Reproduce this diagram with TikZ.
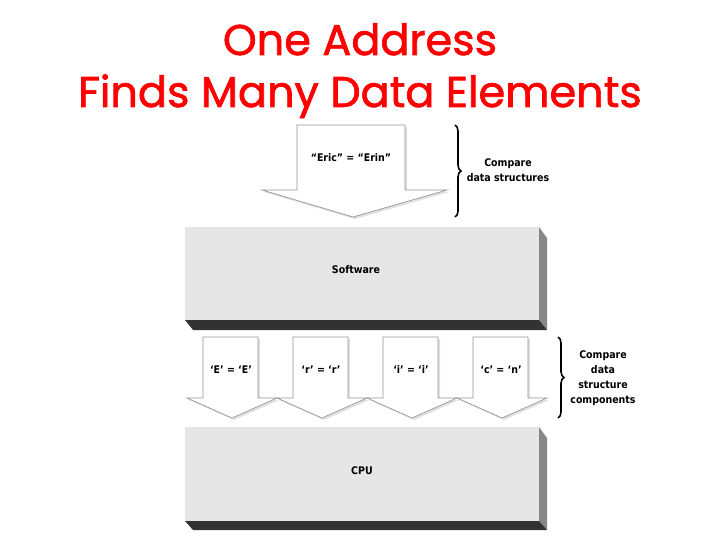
\documentclass[tikz,border=0pt]{standalone}
\usepackage{fontspec}
\setmainfont{DejaVu Sans}
\newfontfamily\lblfont{DejaVu Sans Condensed}
\newfontfamily\titlefont[FakeBold=1.5]{Poppins}
\usetikzlibrary{decorations.pathreplacing}
\definecolor{titlered}{RGB}{255,0,0}
\definecolor{facegray}{RGB}{230,230,230}
\definecolor{sidegray}{RGB}{135,135,135}
\definecolor{bottomgray}{RGB}{50,50,50}
\definecolor{arrowline}{RGB}{150,150,150}
\tikzset{
  lbl/.style={font=\lblfont\bfseries\fontsize{10.5}{15}\selectfont, inner sep=0pt, align=center},
  ttl/.style={font=\titlefont\fontsize{43}{48}\selectfont, text=titlered, inner sep=0pt, anchor=base},
  fatarrow/.style={draw=arrowline, fill=white, line width=0.7pt, line join=miter},
  fatshadow/.style={draw=none, fill=black!12},
  bracestyle/.style={decorate, decoration={brace, amplitude=6pt}, line width=1.6pt},
  front/.style={fill=facegray, draw=none},
  side/.style={fill=sidegray, draw=none},
  bottom/.style={fill=bottomgray, draw=none}
}
\begin{document}
\begin{tikzpicture}[x=1pt,y=-1pt]
\useasboundingbox (0,0) rectangle (720,540);
\fill[white] (0,0) rectangle (720,540);
% title
\node[ttl] (t1) at (360,55) {One Address};
\node[ttl] (t2) at (360,107) {Finds Many Data Elements};
% top arrow
\fill[fatshadow] (299,127) -- (407,127) -- (407,192) -- (449,192) -- (355,219) -- (264,192) -- (299,192) -- cycle;
\draw[fatarrow] (297,125) -- (405,125) -- (405,190) -- (447,190) -- (353,217) -- (262,190) -- (297,190) -- cycle;
\node[lbl] (eric) at (351,158) {“Eric” = “Erin”};
\draw[bracestyle] (455,125) -- (455,217);
\node[lbl] (cmp1) at (508,170) {Compare\\data structures};
% Software box
\fill[side] (539,227) -- (547,238) -- (547,330) -- (539,320) -- cycle;
\fill[bottom] (185,320) -- (539,320) -- (547,330) -- (193,330) -- cycle;
\fill[front] (185,227) rectangle (539,320);
\node[lbl] (sw) at (356,270) {Software};
% small arrows
\foreach \x/\t [count=\i] in {187/{‘E’ = ‘E’}, 277/{‘r’ = ‘r’}, 367/{‘i’ = ‘i’}, 457/{‘c’ = ‘n’}} {
  \fill[fatshadow] (\x+18,339) -- (\x+73,339) -- (\x+73,400) -- (\x+92,400) -- (\x+47,420) -- (\x+2,400) -- (\x+18,400) -- cycle;
  \draw[fatarrow] (\x+16,337) -- (\x+71,337) -- (\x+71,398) -- (\x+90,398) -- (\x+45,418) -- (\x,398) -- (\x+16,398) -- cycle;
  \node[lbl] (c\i) at (\x+44,370) {\t};
}
\draw[bracestyle] (558,337) -- (558,418);
\node[lbl] (cmp2) at (603,378) {Compare\\data\\structure\\components};
% CPU box
\fill[side] (539,427) -- (547,438) -- (547,530) -- (539,521) -- cycle;
\fill[bottom] (185,521) -- (539,521) -- (547,530) -- (193,530) -- cycle;
\fill[front] (185,427) rectangle (539,521);
\node[lbl] (cpu) at (362,471) {CPU};
\end{tikzpicture}
\end{document}
